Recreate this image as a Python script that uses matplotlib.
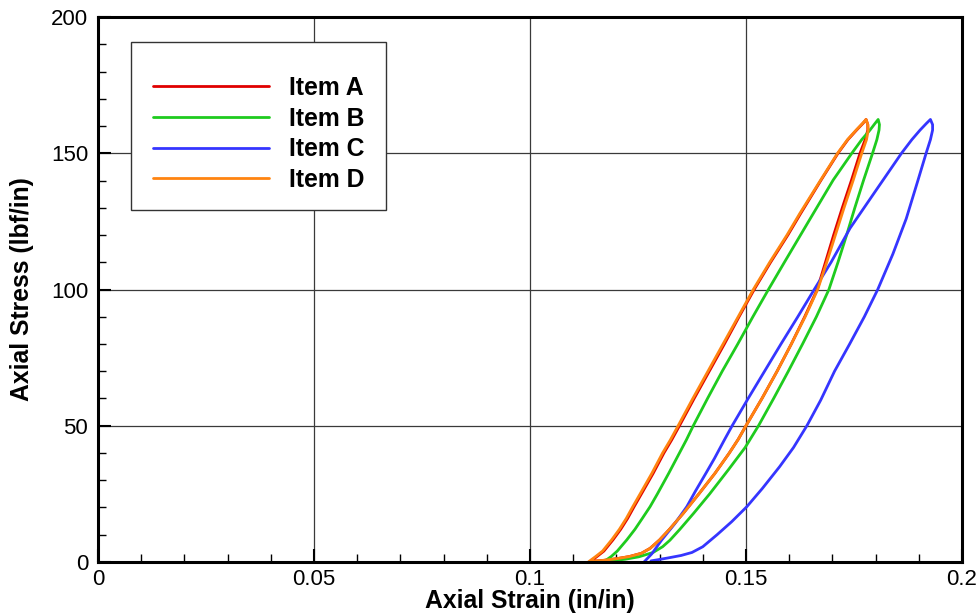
"""Axial stress vs axial strain hysteresis loops for four items."""

import matplotlib
matplotlib.use("Agg")
import matplotlib.pyplot as plt
from matplotlib.patches import Rectangle
from matplotlib.ticker import MultipleLocator, FuncFormatter


LABELS = ["Item A", "Item B", "Item C", "Item D"]
COLORS = ["#e00000", "#1ecb1e", "#3535ff", "#ff8410"]

# loading branch (upper/left) then unloading branch (lower/right)
A_STRAIN = [0.1138, 0.1155, 0.1171, 0.1192, 0.1210, 0.1226, 0.1241, 0.1258,
            0.1285, 0.1310, 0.1328, 0.1346, 0.1380, 0.1415, 0.1450, 0.1484,
            0.1519, 0.1557, 0.1597, 0.1627, 0.1674, 0.1713, 0.1736, 0.1756,
            0.1771, 0.1778,
            0.1782, 0.1782, 0.1776, 0.1764, 0.1744, 0.1723, 0.1703, 0.1684,
            0.1665, 0.1636, 0.1605, 0.1572, 0.1537, 0.1500, 0.1482, 0.1461,
            0.1428, 0.1391, 0.1355, 0.1323, 0.1300, 0.1278, 0.1258, 0.1230,
            0.1200, 0.1170, 0.1145]
A_STRESS = [0, 2, 4, 8.1, 12, 16, 20.3, 25,
            32.5, 40, 44.8, 50, 60, 70, 80, 90,
            100, 110, 120, 128, 140.2, 150, 155, 158.5,
            161, 162.4,
            160.5, 158.5, 155, 150, 140, 130, 120, 110,
            100, 90, 80, 70, 60, 50, 45, 39.9,
            32.5, 25, 17.9, 12, 8.1, 5, 3.2, 2,
            1.2, 0.6, 0.3]

B_STRAIN = [0.1170, 0.1188, 0.1202, 0.1224, 0.1243, 0.1260, 0.1278, 0.1295,
            0.1321, 0.1346, 0.1362, 0.1378, 0.1411, 0.1445, 0.1481, 0.1516,
            0.1552, 0.1589, 0.1645, 0.1702, 0.1745, 0.1768, 0.1787, 0.1799,
            0.1806,
            0.1809, 0.1808, 0.1803, 0.1793, 0.1772, 0.1752, 0.1733, 0.1713,
            0.1692, 0.1663, 0.1631, 0.1598, 0.1564, 0.1529, 0.1498, 0.1460,
            0.1416, 0.1379, 0.1347, 0.1324, 0.1307, 0.1285, 0.1252, 0.1220,
            0.1185]
B_STRESS = [0, 2, 4, 8.1, 12, 16, 20.3, 25,
            32.5, 40, 44.8, 50, 60, 70, 80, 90,
            100, 110, 125, 140.2, 150, 155, 158.5, 161,
            162.4,
            160.5, 158.5, 155, 150, 140, 130, 120, 110,
            100, 90, 80, 70, 60, 50, 42, 34,
            25, 17.9, 12, 8, 5.6, 3.5, 1.9, 1.0,
            0.4]

C_STRAIN = [0.1264, 0.1282, 0.1305, 0.1335, 0.1363, 0.1383, 0.1407, 0.1427,
            0.1450, 0.1468, 0.1505, 0.1543, 0.1581, 0.1620, 0.1658, 0.1697,
            0.1741, 0.1795, 0.1860, 0.1884, 0.1903, 0.1918, 0.1927,
            0.1932, 0.1932, 0.1927, 0.1917, 0.1898, 0.1871, 0.1840, 0.1805,
            0.1774, 0.1740, 0.1705, 0.1673, 0.1641, 0.1610, 0.1578, 0.1538,
            0.1502, 0.1467, 0.1433, 0.1400, 0.1375, 0.1350, 0.1320, 0.1295,
            0.1280]
C_STRESS = [0, 3, 8.1, 14, 20.3, 26, 32.5, 38,
            44.8, 50, 60, 70, 80, 90, 100, 110,
            122.5, 135, 150, 155, 158.5, 161, 162.4,
            160.5, 158.5, 155, 150, 140, 126, 113, 100,
            90, 80, 70, 59.4, 50, 42, 35, 27,
            20.3, 14.8, 10, 5.6, 3.5, 2.4, 1.5, 0.8,
            0.4]

D_STRAIN = [0.1135, 0.1152, 0.1168, 0.1189, 0.1207, 0.1223, 0.1238, 0.1255,
            0.1282, 0.1307, 0.1325, 0.1343, 0.1377, 0.1412, 0.1447, 0.1482,
            0.1517, 0.1555, 0.1595, 0.1625, 0.1673, 0.1712, 0.1735, 0.1755,
            0.1770, 0.1778,
            0.1782, 0.1783, 0.1779, 0.1768, 0.1748, 0.1727, 0.1707, 0.1687,
            0.1666, 0.1637, 0.1605, 0.1572, 0.1537, 0.1500, 0.1482, 0.1461,
            0.1428, 0.1391, 0.1355, 0.1323, 0.1300, 0.1278, 0.1258, 0.1230,
            0.1200, 0.1170, 0.1145]
D_STRESS = A_STRESS

X_TICKS = [0, 0.05, 0.1, 0.15, 0.2]
Y_TICKS = [0, 50, 100, 150, 200]

FONT = ["Liberation Sans", "DejaVu Sans"]


def main():
    plt.rcParams["font.family"] = FONT
    fig = plt.figure(figsize=(9.79, 6.14), dpi=100)
    ax = fig.add_axes([0.1001, 0.0847, 0.8825, 0.8876])

    series = [(A_STRAIN, A_STRESS), (B_STRAIN, B_STRESS),
              (C_STRAIN, C_STRESS), (D_STRAIN, D_STRESS)]
    # red first so orange sits on top of it, like the reference
    handles = []
    for (x, y), color, label in zip(series, COLORS, LABELS):
        (ln,) = ax.plot(x, y, color=color, lw=2.0, label=label,
                        solid_joinstyle="round", solid_capstyle="round",
                        zorder=3)
        handles.append(ln)

    ax.set_xlim(0, 0.2)
    ax.set_ylim(0, 200)
    ax.set_xticks(X_TICKS)
    ax.set_yticks(Y_TICKS)
    ax.xaxis.set_minor_locator(MultipleLocator(0.01))
    ax.yaxis.set_minor_locator(MultipleLocator(10))
    ax.xaxis.set_major_formatter(FuncFormatter(lambda v, p: f"{v:g}"))
    ax.yaxis.set_major_formatter(FuncFormatter(lambda v, p: f"{v:g}"))
    ax.tick_params(which="major", direction="in", length=9.4, width=1.5,
                   labelsize=16, pad=5, top=False, right=False)
    ax.tick_params(which="minor", direction="in", length=5.8, width=1.0,
                   top=False, right=False)
    ax.tick_params(axis="y", which="major", pad=7)
    ax.grid(which="major", color="#3a3a3a", lw=0.9)
    ax.set_axisbelow(True)
    for sp in ax.spines.values():
        sp.set_linewidth(2.2)
        sp.set_zorder(5)

    ax.set_xlabel("Axial Strain (in/in)", fontsize=17.8, fontweight="bold",
                  labelpad=-1)
    ax.set_ylabel("Axial Stress (lbf/in)", fontsize=17.8, fontweight="bold",
                  labelpad=12)

    # legend frame drawn by hand to get the Tecplot-style uneven padding
    frame = Rectangle((0.0382, 0.646), 0.2951, 0.308, transform=ax.transAxes,
                      facecolor="white", edgecolor="#333333", lw=1.0,
                      zorder=6)
    ax.add_patch(frame)
    leg = ax.legend(handles=handles, loc="upper left",
                    bbox_to_anchor=(0.0635, 0.892), frameon=False,
                    prop={"family": FONT, "weight": "bold", "size": 17.8},
                    handlelength=4.7, handletextpad=0.8, labelspacing=0.27,
                    borderpad=0, borderaxespad=0)
    leg.set_zorder(7)
    for h in leg.get_lines():
        h.set_linewidth(2.0)

    fig.savefig("out.png", dpi=100)


if __name__ == "__main__":
    main()
